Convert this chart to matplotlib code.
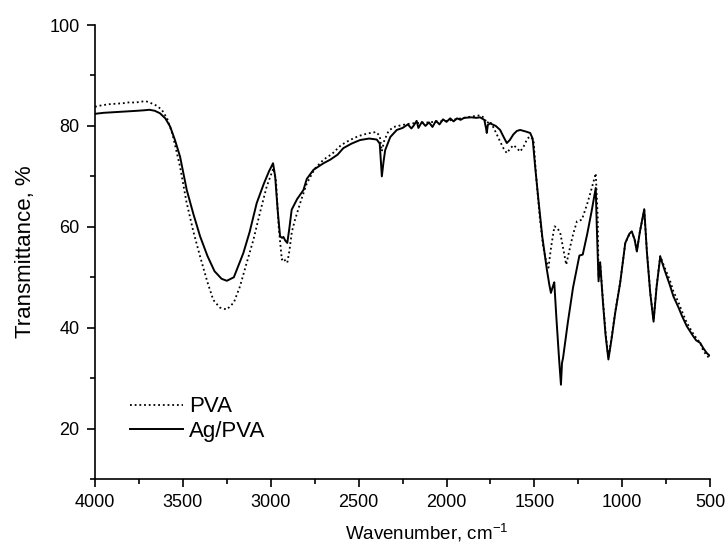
import matplotlib
matplotlib.use("Agg")
import matplotlib.pyplot as plt
from matplotlib.ticker import MultipleLocator

plt.rcParams['font.family'] = ['Liberation Sans', 'DejaVu Sans']
plt.rcParams['mathtext.default'] = 'regular'

# Ag/PVA (solid line)
agpva_wn = [4000, 3950, 3900, 3850, 3800, 3760, 3720, 3690, 3660, 3630, 3600, 3573, 3545, 3516,
            3478, 3440, 3402, 3360, 3320, 3280, 3250, 3210, 3156, 3120, 3080, 3040, 3010, 2987,
            2975, 2960, 2947, 2935, 2928, 2918, 2906, 2895, 2881, 2850, 2814, 2795, 2757, 2700,
            2662, 2620, 2587, 2540, 2492, 2440, 2397, 2380, 2368, 2358, 2349, 2320, 2283, 2250,
            2220, 2200, 2188, 2170, 2160, 2140, 2120, 2100, 2080, 2060, 2040, 2020, 2000, 1979,
            1960, 1940, 1920, 1900, 1860, 1830, 1809, 1785, 1775, 1771, 1765, 1752, 1720, 1695,
            1675, 1657, 1640, 1620, 1600, 1581, 1550, 1524, 1510, 1496, 1477, 1455, 1429, 1415,
            1406, 1395, 1387, 1375, 1360, 1349, 1343, 1337, 1310, 1280, 1244, 1225, 1200, 1175,
            1151, 1145, 1135, 1126, 1110, 1095, 1079, 1060, 1040, 1012, 983, 960, 946, 930, 917,
            900, 875, 860, 841, 822, 805, 784, 760, 730, 709, 680, 660, 633, 600, 580, 557, 540,
            520, 505]
agpva_t = [82.4, 82.6, 82.7, 82.8, 82.9, 83.0, 83.1, 83.2, 83.0, 82.5, 81.5, 79.9, 77.2, 73.9,
           67.3, 62.5, 58.1, 54.2, 51.2, 49.7, 49.3, 50.0, 54.8, 59.0, 64.7, 68.5, 71.0, 72.6,
           70.0, 63.0, 58.1, 57.8, 58.0, 57.3, 56.8, 59.5, 63.4, 65.5, 67.3, 69.5, 71.3, 72.6,
           73.3, 74.3, 75.6, 76.5, 77.2, 77.5, 77.3, 76.5, 70.0, 73.0, 75.2, 77.8, 79.2, 79.6,
           80.3, 79.5, 80.0, 81.0, 79.6, 80.8, 80.0, 80.7, 79.8, 81.0, 80.3, 81.3, 80.8, 81.5,
           80.9, 81.5, 81.2, 81.6, 81.7, 81.6, 81.7, 81.2, 79.5, 78.6, 80.2, 80.5, 80.0, 79.2,
           77.8, 76.6, 77.2, 78.3, 79.0, 79.2, 78.9, 78.6, 77.5, 72.0, 65.3, 58.0, 51.5, 48.5,
           46.9, 48.2, 49.0, 42.0, 34.0, 28.7, 33.0, 34.0, 41.0, 48.0, 54.3, 54.5, 58.5, 63.0,
           67.7, 60.0, 49.2, 52.9, 45.0, 38.5, 33.7, 38.0, 43.0, 48.9, 56.8, 58.6, 59.1, 57.5, 55.1,
           59.0, 63.5, 55.0, 46.9, 41.2, 48.0, 54.1, 51.5, 48.5, 46.2, 44.0, 42.3, 40.3, 38.5, 37.5,
           37.0, 36.0, 35.0, 34.5]

# PVA (dotted line)
pva_wn = [4000, 3960, 3920, 3880, 3840, 3800, 3770, 3744, 3710, 3680, 3649, 3620, 3590, 3560,
          3516, 3480, 3440, 3402, 3360, 3327, 3290, 3250, 3210, 3175, 3140, 3099, 3060, 3023,
          2985, 2970, 2955, 2937, 2925, 2915, 2906, 2895, 2880, 2862, 2830, 2795, 2750, 2700,
          2650, 2600, 2550, 2500, 2450, 2400, 2380, 2368, 2355, 2330, 2300, 2250, 2200, 2150,
          2100, 2050, 2000, 1950, 1900, 1850, 1809, 1785, 1771, 1755, 1730, 1710, 1695, 1675,
          1657, 1640, 1619, 1600, 1581, 1560, 1540, 1524, 1505, 1490, 1470, 1450, 1435, 1420,
          1405, 1386, 1370, 1353, 1335, 1319, 1300, 1280, 1258, 1230, 1200, 1175, 1151, 1140,
          1135, 1126, 1110, 1095, 1079, 1060, 1040, 1012, 983, 960, 946, 930, 917, 900, 875, 860,
          841, 822, 805, 784, 760, 730, 709, 680, 660, 633, 600, 580, 557, 540, 520, 505]
pva_t = [83.8, 84.1, 84.3, 84.4, 84.5, 84.7, 84.6, 84.8, 84.9, 84.5, 84.0, 83.2, 81.5, 78.5,
         71.9, 65.0, 59.0, 54.1, 49.0, 45.5, 44.0, 43.6, 45.0, 48.2, 52.5, 57.4, 63.0, 68.0,
         71.6, 69.0, 60.0, 53.5, 53.8, 53.0, 52.9, 55.0, 59.0, 61.4, 65.0, 68.6, 71.5, 73.3,
         74.5, 76.2, 77.2, 78.0, 78.5, 78.8, 78.0, 75.0, 77.0, 79.0, 79.8, 80.2, 80.5, 80.6,
         80.7, 80.9, 81.0, 81.3, 81.6, 81.9, 82.1, 81.6, 80.5, 81.0, 79.5, 78.0, 76.9, 75.5,
         74.6, 75.4, 76.2, 75.6, 74.9, 76.0, 77.5, 77.9, 77.2, 70.0, 62.0, 56.0, 53.5, 51.9,
         56.0, 60.1, 59.8, 58.8, 55.5, 52.5, 55.5, 58.5, 61.1, 61.4, 64.5, 67.5, 70.6, 62.0,
         50.0, 53.0, 45.5, 39.0, 34.0, 38.3, 43.2, 49.0, 56.8, 58.5, 59.0, 57.5, 55.3, 59.0, 63.3,
         55.2, 47.0, 41.5, 48.2, 54.2, 52.0, 49.5, 47.2, 45.0, 43.2, 41.0, 39.0, 38.0, 37.0, 35.5,
         34.5, 34.0]

fig = plt.figure(figsize=(7.28, 5.5), dpi=100)
ax = fig.add_axes([0.1305, 0.129, 0.845, 0.8255])

ax.plot(pva_wn, pva_t, color='black', lw=1.3, dashes=(1, 1.6), label='PVA')
ax.plot(agpva_wn, agpva_t, color='black', lw=1.4, label='Ag/PVA')

ax.set_xlim(4000, 500)
ax.set_ylim(10, 100)
ax.xaxis.set_major_locator(MultipleLocator(500))
ax.xaxis.set_minor_locator(MultipleLocator(250))
ax.yaxis.set_minor_locator(MultipleLocator(10))
ax.set_yticks([20, 40, 60, 80, 100])

for s in ['top', 'right']:
    ax.spines[s].set_visible(False)
for s in ['left', 'bottom']:
    ax.spines[s].set_linewidth(1.2)

ax.tick_params(which='major', length=6, width=1.2, labelsize=13, pad=5)
ax.tick_params(which='minor', length=3.5, width=1.2)

ax.set_xlabel('Wavenumber, cm$^{-1}$', fontsize=13.5)
ax.xaxis.set_label_coords(0.54, -0.095)
ax.set_ylabel('Transmittance, %', fontsize=16, labelpad=10)

ax.legend(loc='center left', bbox_to_anchor=(0.057, 0.132), frameon=False, fontsize=16,
          handlelength=2.4, handletextpad=0.25, labelspacing=0.15, borderpad=0, borderaxespad=0)

fig.savefig('out.png', dpi=100)
